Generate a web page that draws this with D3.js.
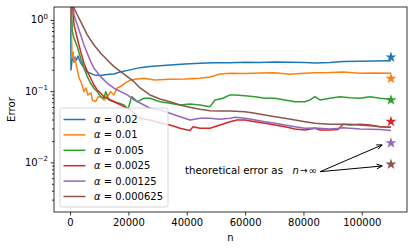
<!DOCTYPE html>
<html><head><meta charset="utf-8">
<script src="https://cdn.jsdelivr.net/npm/d3@7"></script>
</head><body style="margin:0;background:#fff"><svg id="c" width="415" height="252" font-family="DejaVu Sans" style="display:block"></svg>
<script>
const alphaLabels = ["0.02","0.01","0.005","0.0025","0.00125","0.000625"];
const colors = ["#1f77b4","#ff7f0e","#2ca02c","#d62728","#9467bd","#8c564b"];
const xTicks = [0,20000,40000,60000,80000,100000];
const yMajor = [0.01,0.1,1];
const theoryN = 110000;
const theoryErr = [0.3,0.15,0.075,0.0375,0.01875,0.009375];
const errA002 = [[200,3],[326,0.199],[670,0.274],[1010,0.292],[1350,0.257],[1700,0.302],[2210,0.274],[2725,0.312],[3650,0.249],[4780,0.212],[5810,0.188],[8210,0.169],[10270,0.166],[12660,0.172],[15060,0.174],[17120,0.186],[20550,0.199],[23970,0.214],[27400,0.222],[34260,0.233],[39400,0.241],[44530,0.247],[49670,0.251],[54830,0.251],[59970,0.255],[65110,0.253],[70250,0.257],[75390,0.255],[80530,0.253],[83960,0.249],[89100,0.253],[93560,0.260],[99380,0.264],[104530,0.266],[110000,0.268]];
const errA001 = [[250,3],[500,0.72],[670,0.292],[1010,0.355],[1350,0.257],[1700,0.292],[2480,0.199],[3070,0.153],[3750,0.135],[4780,0.0984],[5470,0.111],[6150,0.0885],[7180,0.0944],[7630,0.0752],[8790,0.0712],[9580,0.0829],[10510,0.0835],[11640,0.0752],[12660,0.0835],[13930,0.0984],[15060,0.0885],[16090,0.111],[17360,0.116],[18830,0.130],[20790,0.144],[22950,0.148],[25350,0.152],[29120,0.144],[34260,0.147],[39400,0.148],[44540,0.152],[47970,0.158],[51400,0.174],[54830,0.178],[59970,0.177],[65110,0.180],[70250,0.182],[75390,0.173],[78820,0.177],[83960,0.182],[89100,0.183],[93560,0.186],[99380,0.178],[104530,0.180],[110000,0.178]];
const errA0005 = [[250,3],[770,0.685],[1350,0.559],[2480,0.422],[3650,0.290],[4780,0.210],[5910,0.160],[7080,0.129],[8210,0.110],[9340,0.0984],[10510,0.0837],[11640,0.0795],[12220,0.0984],[13350,0.0752],[15060,0.0712],[16780,0.0676],[18490,0.0640],[19620,0.0575],[19970,0.0575],[21130,0.0837],[23050,0.0712],[25350,0.0795],[27400,0.0795],[30830,0.0712],[34260,0.0676],[37690,0.0640],[41110,0.0661],[44540,0.0640],[47970,0.0606],[49690,0.0752],[52430,0.0795],[54830,0.0885],[56540,0.0885],[59970,0.0865],[63400,0.0837],[66830,0.0795],[70250,0.0795],[73680,0.0752],[77110,0.0712],[80530,0.0712],[82250,0.0752],[83960,0.0837],[85670,0.0752],[89100,0.0795],[92530,0.0837],[95960,0.0811],[99380,0.0795],[102810,0.0837],[106240,0.0795],[110000,0.0769]];
const errA00025 = [[400,3],[1350,0.851],[2480,0.553],[3650,0.359],[4780,0.246],[5910,0.188],[7080,0.152],[8210,0.122],[9340,0.104],[10510,0.0935],[11640,0.0837],[13930,0.0752],[16190,0.0676],[18490,0.0606],[20790,0.0544],[23980,0.0416],[27400,0.0394],[30830,0.0357],[34260,0.0335],[37690,0.0301],[41110,0.0281],[42140,0.0317],[44540,0.0301],[47970,0.0301],[51400,0.0335],[54830,0.0373],[57230,0.0394],[59970,0.0394],[63400,0.0373],[66830,0.0354],[70250,0.0335],[73680,0.0317],[77110,0.0294],[80530,0.0285],[83960,0.0301],[85670,0.0285],[89100,0.0285],[91850,0.0290],[93560,0.0343],[95960,0.0335],[99380,0.0343],[102810,0.0335],[106240,0.0317],[110000,0.0311]];
const errA000125 = [[600,3],[1350,1.18],[2480,0.851],[3650,0.616],[4780,0.445],[5910,0.340],[7080,0.260],[8210,0.210],[10510,0.160],[12770,0.129],[15060,0.110],[17360,0.0984],[19640,0.0885],[21920,0.0752],[24220,0.0676],[27400,0.0575],[30830,0.0544],[34260,0.0489],[37690,0.0438],[41110,0.0394],[44540,0.0416],[47970,0.0416],[51400,0.0403],[54830,0.0416],[56540,0.0430],[59970,0.0416],[63400,0.0394],[66830,0.0373],[70250,0.0354],[73680,0.0335],[77110,0.0317],[80530,0.0301],[83960,0.0304],[89100,0.0294],[92530,0.0301],[93560,0.0306],[99380,0.0294],[106240,0.0290],[110000,0.0281]];
const errA0000625 = [[700,3],[1350,1.46],[3650,0.946],[5910,0.616],[8210,0.445],[10510,0.340],[12770,0.274],[15060,0.221],[17360,0.188],[19640,0.160],[21920,0.136],[23980,0.111],[27400,0.0885],[30830,0.0777],[34260,0.0712],[37690,0.0640],[41110,0.0594],[44540,0.0557],[47970,0.0532],[51400,0.0527],[54830,0.0527],[59970,0.0515],[63400,0.0489],[66830,0.0463],[70250,0.0438],[73680,0.0416],[77110,0.0394],[80530,0.0373],[83960,0.0354],[89100,0.0343],[95960,0.0343],[99380,0.0335],[102810,0.0327],[106240,0.0317],[110000,0.0311]];
const allSeries = [errA002,errA001,errA0005,errA00025,errA000125,errA0000625];
const annotText = {n:39400, err:0.00764};
const arrowFrom = {n:85700, err:0.0074};
const arrowTargets = [[107000,0.0176],[107000,0.0089]];

const FONT = "DejaVu Sans";
// approximate DejaVu Sans advance widths (em) to keep text widths stable
const DIG=0.636, DOT=0.318;
function numW(s,fs){let w=0;for(const c of s){w+=(c==="."?DOT:DIG);}return w*fs;}
function fit(sel,w){sel.attr("textLength",w).attr("lengthAdjust","spacingAndGlyphs");}

const svg = d3.select("#c");
const L=54,R=407,T=7,B=212;
const x = d3.scaleLinear().domain([-5500,115500]).range([L,R]);
const y = d3.scaleLog().domain([0.00201,1.52]).range([B,T]);

svg.append("clipPath").attr("id","clip").append("rect").attr("x",L).attr("y",T).attr("width",R-L).attr("height",B-T);
const line = d3.line().x(d=>x(d[0])).y(d=>y(d[1]));
const g = svg.append("g").attr("clip-path","url(#clip)");
allSeries.forEach((s,i)=>{
  g.append("path").attr("d",line(s)).attr("fill","none").attr("stroke",colors[i]).attr("stroke-width",1.5).attr("stroke-linejoin","round");
});
theoryErr.forEach((v,i)=>{
  svg.append("path").attr("d",d3.symbol().type(d3.symbolStar).size(38)())
    .attr("transform",`translate(${x(theoryN)},${y(v)})`).attr("fill",colors[i]);
});
const xAxis = svg.append("g").attr("transform",`translate(0,${B})`)
  .call(d3.axisBottom(x).tickValues(xTicks).tickFormat(d3.format("d")).tickSize(3.5).tickPadding(3.5));
xAxis.select(".domain").remove();
xAxis.attr("font-family",FONT);
xAxis.selectAll("text").attr("font-size",10).attr("fill","#000").attr("font-family",FONT)
  .each(function(){fit(d3.select(this),numW(this.textContent,10));});
const minor=[];
[0.001,0.01,0.1].forEach(b=>{for(let k=2;k<10;k++){const v=b*k;if(v>=0.00201&&v<=1.52)minor.push(v);}});
const yAxisMinor = svg.append("g").attr("transform",`translate(${L},0)`)
  .call(d3.axisLeft(y).tickValues(minor).tickFormat("").tickSize(2));
yAxisMinor.select(".domain").remove();
const yAxis = svg.append("g").attr("transform",`translate(${L},0)`)
  .call(d3.axisLeft(y).tickValues(yMajor).tickFormat("").tickSize(3.5));
yAxis.select(".domain").remove();
svg.selectAll(".tick line").attr("stroke","#000").attr("stroke-width",0.8);
yMajor.forEach(v=>{
  const e=Math.round(Math.log10(v));
  const sup = e===0?"0":"\u2212"+Math.abs(e);
  const supW = e===0?7*DIG:7*(0.838+DIG);
  const t=svg.append("text").attr("x",L-6).attr("y",y(v)+3.5).attr("text-anchor","end").attr("font-size",10).attr("font-family",FONT);
  t.append("tspan").text("10");
  t.append("tspan").attr("dy",-4.5).attr("font-size",7).text(sup);
  fit(t,20*DIG+supW);
});
svg.append("rect").attr("x",L).attr("y",T).attr("width",R-L).attr("height",B-T).attr("fill","none").attr("stroke","#000").attr("stroke-width",0.8);
svg.append("text").attr("x",(L+R)/2).attr("y",241).attr("text-anchor","middle").attr("font-size",10).attr("font-family",FONT).text("n");
fit(svg.append("text").attr("transform",`translate(15,${(T+B)/2}) rotate(-90)`).attr("text-anchor","middle").attr("font-size",10).attr("font-family",FONT).text("Error"),24.8);
// annotation
const tx=x(annotText.n), ty=y(annotText.err)+3.5;
fit(svg.append("text").attr("x",tx).attr("y",ty).attr("font-size",10).attr("font-family",FONT).text("theoretical error as"),98);
svg.append("text").attr("x",tx+107.5).attr("y",ty).attr("font-size",10).attr("font-family",FONT).attr("font-style","italic").text("n");
fit(svg.append("text").attr("x",tx+115).attr("y",ty).attr("font-size",10).attr("font-family",FONT).text("\u2192"),7.5);
fit(svg.append("text").attr("x",tx+123.5).attr("y",ty).attr("font-size",10).attr("font-family",FONT).text("\u221e"),8.3);
arrowTargets.forEach(tg=>{
  const x0=x(arrowFrom.n),y0=y(arrowFrom.err),x1=x(tg[0]),y1=y(tg[1]);
  svg.append("line").attr("x1",x0).attr("y1",y0).attr("x2",x1).attr("y2",y1).attr("stroke","#000").attr("stroke-width",1);
  const a=Math.atan2(y1-y0,x1-x0),h=6,w=0.4;
  svg.append("path").attr("d",`M${x1-h*Math.cos(a-w)},${y1-h*Math.sin(a-w)}L${x1},${y1}L${x1-h*Math.cos(a+w)},${y1-h*Math.sin(a+w)}`)
    .attr("fill","none").attr("stroke","#000").attr("stroke-width",1);
});
// legend
const lg = svg.append("g");
lg.append("rect").attr("x",60).attr("y",108).attr("width",108).attr("height",99).attr("rx",2.5)
  .attr("fill","#fff").attr("fill-opacity",0.8).attr("stroke","#cccccc").attr("stroke-width",0.8);
alphaLabels.forEach((lab,i)=>{
  const yy=119.5+i*15.4;
  lg.append("line").attr("x1",63.5).attr("x2",85.5).attr("y1",yy).attr("y2",yy).attr("stroke",colors[i]).attr("stroke-width",1.5);
  const t=lg.append("text").attr("x",94).attr("y",yy+3.5).attr("font-size",10).attr("font-family",FONT);
  t.append("tspan").attr("font-style","italic").text("\u03b1");
  t.append("tspan").text(" = "+lab);
  fit(t,21.3+numW(lab,10));
});
</script></body></html>
